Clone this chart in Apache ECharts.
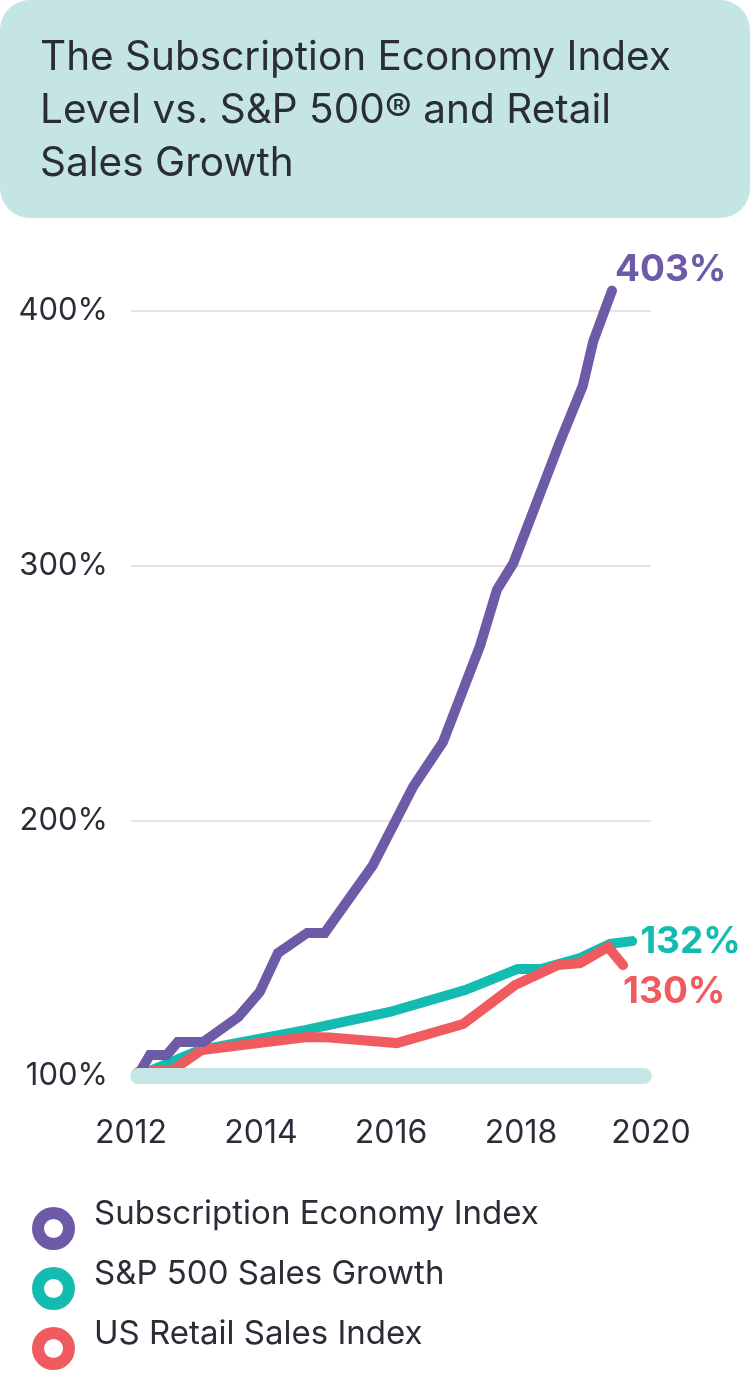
<!DOCTYPE html>
<html>
<head>
<meta charset="utf-8">
<script src="https://cdn.jsdelivr.net/npm/echarts@6/dist/echarts.min.js"></script>
<style>
html,body{margin:0;padding:0;background:#fff;}
#chart{width:750px;height:1398px;}
</style>
</head>
<body>
<div id="chart"></div>
<script>
// ---- data ----
const titleText = 'The Subscription Economy Index\nLevel vs. S&P 500® and Retail\nSales Growth';
const seriesNames = ['Subscription Economy Index', 'S&P 500 Sales Growth', 'US Retail Sales Index'];
const endLabels = ['403%', '132%', '130%'];
const xTicks = [2012, 2014, 2016, 2018, 2020];
const yTicks = [100, 200, 300, 400];

const subscriptionIndex = [
  [2012.10, 100], [2012.29, 108.2], [2012.55, 108.2], [2012.72, 113.3], [2013.11, 113.3],
  [2013.65, 123.1], [2013.98, 132.9], [2014.26, 148.2], [2014.71, 156.1], [2014.98, 156.1],
  [2015.72, 182.6], [2016.34, 213.4], [2016.80, 231.0], [2017.37, 268.7], [2017.63, 290.7],
  [2017.88, 301.0], [2018.60, 348.7], [2018.95, 370.6], [2019.11, 388.0], [2019.40, 408.0]
];
const sp500Sales = [
  [2012.10, 100], [2013.06, 110.2], [2014.68, 118.0], [2015.98, 125.1], [2017.14, 133.7],
  [2017.95, 142.0], [2018.32, 142.0], [2018.91, 146.3], [2019.37, 151.8], [2019.71, 152.9]
];
const retailSales = [
  [2012.10, 101.5], [2012.65, 102.5], [2013.09, 110.2], [2014.71, 115.3], [2015.06, 115.1],
  [2016.09, 112.9], [2017.11, 120.4], [2017.91, 135.7], [2018.57, 143.5], [2018.91, 144.3],
  [2019.34, 150.6], [2019.57, 143.5]
];
const baseline = [[2012.11, 100], [2019.89, 100]];

// ---- styles ----
const FONT = 'Inter, "Noto Sans", sans-serif';
const TEXT = '#2a2c37';
const PURPLE = '#6e5ba7';
const TEAL = '#13bbb0';
const RED = '#f05b5f';
const BASE = '#c6e6e5';

const chart = echarts.init(document.getElementById('chart'), null, {renderer: 'canvas'});

function lineSeries(name, data, color, label, labelOpts) {
  return {
    name: name,
    type: 'line',
    data: data,
    showSymbol: false,
    symbol: 'none',
    clip: false,
    lineStyle: {color: color, width: 10, cap: 'round', join: 'miter'},
    itemStyle: {color: color},
    endLabel: Object.assign({
      show: true,
      formatter: label,
      color: color,
      fontFamily: FONT,
      fontWeight: 'bold',
      fontSize: 37
    }, labelOpts),
    emphasis: {disabled: true},
    silent: true
  };
}

const option = {
  animation: false,
  backgroundColor: '#fff',
  graphic: [{
    type: 'rect',
    z: -10,
    shape: {x: 0, y: 0, width: 750, height: 218, r: 30},
    style: {fill: '#c5e5e4'}
  }],
  title: {
    text: titleText,
    left: 40,
    top: 31,
    padding: 0,
    textStyle: {
      fontFamily: FONT,
      fontSize: 40.5,
      fontWeight: 'normal',
      lineHeight: 53,
      color: TEXT
    }
  },
  grid: {left: 131, right: 99, top: 311, bottom: 322, containLabel: false},
  xAxis: {
    type: 'value',
    min: xTicks[0],
    max: xTicks[xTicks.length - 1],
    interval: 2,
    axisLine: {show: false},
    axisTick: {show: false},
    splitLine: {show: false},
    axisLabel: {
      formatter: v => String(v),
      fontFamily: FONT,
      fontSize: 32,
      color: TEXT,
      margin: 41
    }
  },
  yAxis: {
    type: 'value',
    min: yTicks[0],
    max: yTicks[yTicks.length - 1],
    interval: 100,
    axisLine: {show: false},
    axisTick: {show: false},
    splitLine: {lineStyle: {color: '#e4e4e4', width: 2}},
    axisLabel: {
      formatter: '{value}%',
      fontFamily: FONT,
      fontSize: 31,
      color: TEXT,
      margin: 23
    }
  },
  legend: {
    orient: 'vertical',
    left: 32,
    top: 1198,
    padding: 0,
    itemWidth: 31,
    itemHeight: 31,
    itemGap: 8,
    selectedMode: false,
    formatter: name => '{t|' + name + '}',
    data: [
      {name: seriesNames[0], icon: 'circle', itemStyle: {color: '#fff', borderColor: PURPLE, borderWidth: 12}},
      {name: seriesNames[1], icon: 'circle', itemStyle: {color: '#fff', borderColor: TEAL, borderWidth: 12}},
      {name: seriesNames[2], icon: 'circle', itemStyle: {color: '#fff', borderColor: RED, borderWidth: 12}}
    ],
    textStyle: {
      fontFamily: FONT,
      fontSize: 33,
      color: TEXT,
      padding: [0, 0, 28, 20],
      rich: {
        t: {fontFamily: FONT, fontSize: 33, color: TEXT, lineHeight: 35}
      }
    }
  },
  series: [
    lineSeries(seriesNames[1], sp500Sales, TEAL, endLabels[1], {distance: 8, offset: [0, 1]}),
    lineSeries(seriesNames[2], retailSales, RED, endLabels[2], {distance: 5, offset: [-5, 27]}),
    lineSeries(seriesNames[0], subscriptionIndex, PURPLE, endLabels[0], {distance: 3, offset: [0, -21]}),
    {
      name: 'baseline',
      type: 'line',
      data: baseline,
      showSymbol: false,
      symbol: 'none',
      silent: true,
      z: 5,
      lineStyle: {color: BASE, width: 16, cap: 'round'},
      emphasis: {disabled: true}
    }
  ]
};

chart.setOption(option);
</script>
</body>
</html>
